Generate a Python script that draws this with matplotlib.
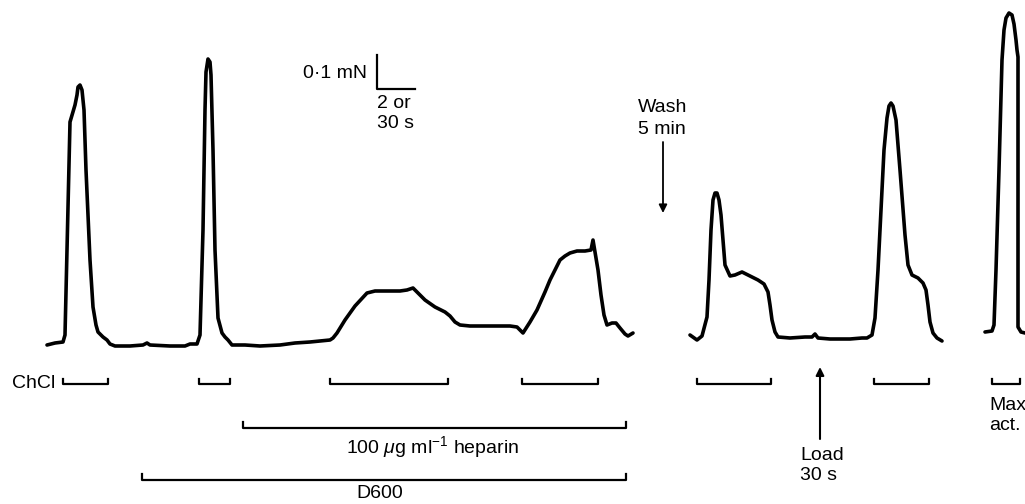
import matplotlib
matplotlib.use("Agg")
import matplotlib.pyplot as plt

plt.rcParams['font.family'] = ['Liberation Sans', 'DejaVu Sans']
plt.rcParams['mathtext.fontset'] = 'custom'
plt.rcParams['mathtext.rm'] = 'Liberation Sans'
plt.rcParams['mathtext.it'] = 'Liberation Sans:italic'

# tension traces (x = record position, y = drawing units, down is larger)
trace1_x = [47, 55, 63, 65, 67, 70, 75, 77, 78, 80, 82, 84, 86, 90, 93, 96, 98, 103, 107, 110, 115,
            130, 143, 147, 150, 170, 185, 190, 197, 200, 203, 205, 206, 208, 210, 211, 213, 215, 218,
            222, 225, 228, 232, 245, 260, 280, 295, 310, 320, 330, 333, 337, 345, 355, 367, 375,
            390, 400, 407, 413, 418, 425, 435, 445, 450, 455, 460, 470, 490, 510, 517, 523, 530,
            537, 545, 550, 555, 560, 565, 570, 577, 585, 591, 593, 595, 598, 601, 604, 607, 612,
            616, 620, 625, 628, 633]
trace1_y = [345, 343, 342, 335, 250, 122, 105, 95, 87, 85, 90, 110, 170, 260, 307, 325, 332, 337, 340,
            344, 346, 346, 345, 343, 345, 346, 346, 344, 344, 335, 230, 110, 72, 59, 62, 75, 150, 250,
            318, 333, 337, 340, 345, 345, 346, 345, 343, 342, 341, 340, 338, 333, 320, 306, 293,
            291, 291, 291, 290, 288, 293, 300, 307, 312, 316, 322, 325, 326, 326, 326, 327, 333,
            322, 310, 292, 280, 270, 260, 256, 253, 251, 251, 250, 240, 252, 270, 295, 315, 325,
            323, 323, 328, 334, 336, 333]

trace2_x = [690, 697, 702, 707, 709, 711, 713, 715, 717, 719, 721, 723, 725, 730, 735, 742, 750, 758,
            764, 768, 770, 772, 775, 778, 790, 805, 812, 815, 818, 830, 850, 862, 867, 872, 875,
            878, 881, 884, 887, 889, 891, 893, 896, 900, 905, 908, 912, 918, 923, 926, 928, 930, 933,
            937, 942]
trace2_y = [335, 340, 336, 317, 280, 230, 200, 193, 193, 200, 215, 240, 265, 276, 275, 272, 276, 280,
            284, 292, 305, 320, 332, 337, 338, 337, 337, 334, 338, 339, 339, 338, 338, 335, 318,
            270, 210, 150, 118, 106, 103, 106, 120, 170, 235, 265, 275, 278, 283, 290, 305, 322, 333,
            338, 341]

trace3_x = [985, 992, 994, 996, 999, 1002, 1004, 1006, 1009, 1012, 1014, 1016, 1017, 1018, 1018,
            1018, 1021, 1025]
trace3_y = [332, 331, 325, 270, 170, 60, 30, 18, 13, 15, 24, 40, 50, 57, 250, 327, 332, 333]

# ChCl application periods (start, end)
chcl_bars = [(63, 108), (199, 230), (330, 448), (522, 598), (697, 771), (874, 929), (992, 1020)]
heparin_bar = (243, 626)
d600_bar = (142, 626)

fig = plt.figure(figsize=(10.25, 5.04), dpi=100)
ax = fig.add_axes([0, 0, 1, 1])
ax.set_xlim(0, 1025)
ax.set_ylim(504, 0)
ax.axis('off')

lw = 2.6
for tx, ty in [(trace1_x, trace1_y), (trace2_x, trace2_y), (trace3_x, trace3_y)]:
    ax.plot(tx, ty, color='black', lw=lw, solid_joinstyle='round', solid_capstyle='round')

def bracket(x0, x1, y, h=5, w=1.6):
    ax.plot([x0, x0, x1, x1], [y - h, y, y, y - h], color='black', lw=w)

for x0, x1 in chcl_bars:
    bracket(x0, x1, 384)
bracket(heparin_bar[0], heparin_bar[1], 428, h=6)
bracket(d600_bar[0], d600_bar[1], 480, h=6)

fs = 14
ax.text(12, 383, "ChCl", fontsize=fs, ha='left', va='center')
ax.text(432, 447, r"100 $\mu$g ml$^{\mathrm{-1}}$ heparin", fontsize=fs, ha='center', va='center')
ax.text(380, 493, "D600", fontsize=fs, ha='center', va='center')

# scale bar
ax.plot([377, 377, 415], [55, 89, 89], color='black', lw=1.6)
ax.text(303, 73, "0\u00b71 mN", fontsize=fs, ha='left', va='center')
ax.text(377, 104, "2 or", fontsize=fs, ha='left', va='center')
ax.text(377, 123, "30 s", fontsize=fs, ha='left', va='center')

# wash arrow
ax.text(638, 108, "Wash", fontsize=fs, ha='left', va='center')
ax.text(638, 129, "5 min", fontsize=fs, ha='left', va='center')
ax.annotate("", xy=(663, 213), xytext=(663, 142),
            arrowprops=dict(arrowstyle='-|>', color='black', lw=1.3,
                            mutation_scale=12, shrinkA=0, shrinkB=0))

# load arrow
ax.annotate("", xy=(820, 367), xytext=(820, 439),
            arrowprops=dict(arrowstyle='-|>', color='black', lw=1.5,
                            mutation_scale=12, shrinkA=0, shrinkB=0))
ax.text(800, 456, "Load", fontsize=fs, ha='left', va='center')
ax.text(800, 476, "30 s", fontsize=fs, ha='left', va='center')

ax.text(989, 405, "Max", fontsize=fs, ha='left', va='center')
ax.text(989, 426, "act.", fontsize=fs, ha='left', va='center')

fig.savefig("out.png", dpi=100)
